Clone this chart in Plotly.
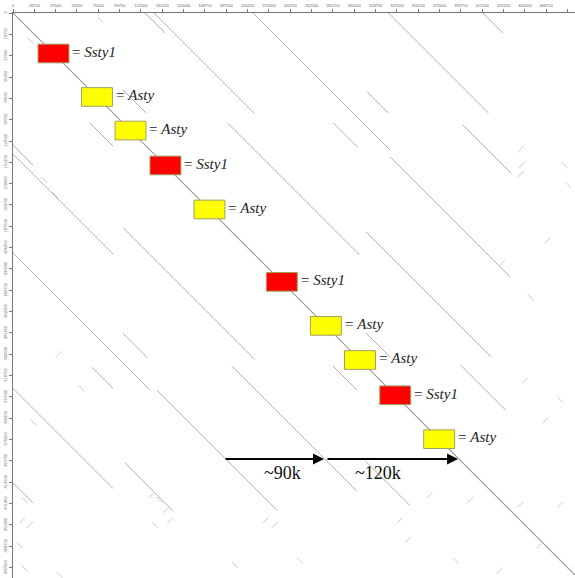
import plotly.graph_objects as go

# ---------------- data (kb) ----------------
SEQ_LEN_X = 494.0
SEQ_LEN_Y = 496.6

# repeat segments (upper triangle: column = row + offset), mirrored below the diagonal
seg_row_start = [0.0, 0.0, 67.7, 281.3, 0.0, 126.6, 96.7, 192.5, 0.0, 98.5, 0.0, 96.7, 69.4, 309.4]
seg_row_end   = [17.6, 87.9, 87.9, 302.4, 120.4, 232.0, 212.7, 302.4, 87.9, 140.6, 17.6, 117.8, 87.9, 349.0]
seg_offset    = [116, 124, 29, 29, 211, 205, 92, 118, 330, 297, 413, 185, 242, 84]

# short speck hits (x kb, y kb, direction: 1 = "\", -1 = "/")
speck_x = [10, 8, 15, 6, 10, 41, 122, 129, 134, 138, 125, 222, 230, 252, 195,
           340, 347, 366, 402, 446, 481, 463, 389, 428, 446, 447, 446, 485, 488,
           450, 481, 468, 28, 37, 15, 77, 430, 455, 470, 18, 40, 60]
speck_y = [428, 446, 450, 468, 488, 494, 424, 428, 437, 446, 450, 446, 450, 481, 485,
           446, 463, 424, 428, 432, 432, 468, 481, 490, 120, 134, 142, 134, 151,
           323, 340, 358, 147, 160, 24, 6, 220, 250, 200, 360, 300, 330]
speck_dir = [1, -1, -1, 1, 1, 1, -1, 1, -1, -1, 1, -1, -1, 1, 1,
             -1, -1, -1, -1, -1, -1, -1, 1, -1, -1, -1, -1, 1, 1,
             -1, 1, -1, 1, 1, 1, 1, -1, 1, -1, 1, -1, 1]

# annotated genes on the diagonal
gene_pos  = [35.6, 73.8, 103.3, 134.0, 172.7, 236.3, 275.0, 305.0, 336.0, 374.6]
gene_name = ["Ssty1", "Asty", "Asty", "Ssty1", "Asty", "Ssty1", "Asty", "Asty", "Ssty1", "Asty"]
gene_color = {"Ssty1": "#ff0000", "Asty": "#ffff00"}

# distance arrows
arrow_y = 392.0
arrow_x = [185.5, 273.4, 275.1, 391.2]
arrow_label = ["~90k", "~120k"]
arrow_label_x = [237.3, 320.8]
arrow_label_y = 404.3

# ticks (bp)
tick_step = 18750
# -------------------------------------------

fig = go.Figure()

# main diagonal
fig.add_trace(go.Scatter(x=[0, SEQ_LEN_X * 1000], y=[0, SEQ_LEN_X * 1000], mode="lines",
                         line=dict(color="#999999", width=1.1), hoverinfo="skip"))

# repeat lines, both halves
lx, ly = [], []
for r0, r1, d in zip(seg_row_start, seg_row_end, seg_offset):
    lx += [(r0 + d) * 1000, (r1 + d) * 1000, None]
    ly += [r0 * 1000, r1 * 1000, None]
    lx += [r0 * 1000, r1 * 1000, None]
    ly += [(r0 + d) * 1000, (r1 + d) * 1000, None]
fig.add_trace(go.Scatter(x=lx, y=ly, mode="lines", line=dict(color="#b0b0b0", width=1),
                         hoverinfo="skip"))

# specks
sx, sy = [], []
half = 2.6
for x, y, dr in zip(speck_x, speck_y, speck_dir):
    sx += [(x - half) * 1000, (x + half) * 1000, None]
    sy += [(y - dr * half) * 1000, (y + dr * half) * 1000, None]
fig.add_trace(go.Scatter(x=sx, y=sy, mode="lines", line=dict(color="#cccccc", width=1),
                         hoverinfo="skip"))

# gene boxes and labels
bw, bh = 13.6, 8.2
for p, name in zip(gene_pos, gene_name):
    fig.add_shape(type="rect", xref="x", yref="y",
                  x0=(p - bw) * 1000, x1=(p + bw) * 1000,
                  y0=(p - bh) * 1000, y1=(p + bh) * 1000,
                  fillcolor=gene_color[name], line=dict(color="#a0a060", width=1), layer="above")
    fig.add_annotation(x=(p + bw + 1.3) * 1000, y=(p - 1.5) * 1000, xref="x", yref="y",
                       text="= <i>" + name + "</i>", showarrow=False, xanchor="left",
                       yanchor="middle",
                       font=dict(family="Liberation Serif", size=15, color="#222222"))

# arrows
for i in range(2):
    x0, x1 = arrow_x[2 * i], arrow_x[2 * i + 1]
    fig.add_annotation(x=x1 * 1000, y=arrow_y * 1000, ax=x0 * 1000, ay=arrow_y * 1000,
                       xref="x", yref="y", axref="x", ayref="y", text="",
                       showarrow=True, arrowhead=2, arrowsize=1, arrowwidth=2.2,
                       arrowcolor="#000000")
    fig.add_annotation(x=arrow_label_x[i] * 1000, y=arrow_label_y * 1000, xref="x", yref="y",
                       text=arrow_label[i], showarrow=False,
                       font=dict(family="Liberation Serif", size=18, color="#111111"))

tickfont = dict(family="Liberation Sans", size=4, color="#666666")
fig.update_layout(
    width=575, height=578,
    margin=dict(l=13, r=0, t=13, b=0),
    paper_bgcolor="white", plot_bgcolor="white",
    showlegend=False,
    xaxis=dict(side="top", range=[0, SEQ_LEN_X * 1000], tick0=0, dtick=tick_step,
               showgrid=False, zeroline=False, showline=True, linecolor="#777777",
               linewidth=1, ticks="outside", ticklen=3, tickcolor="#777777",
               tickfont=tickfont, tickformat="d", automargin=False),
    yaxis=dict(range=[SEQ_LEN_Y * 1000, 0], tick0=0, dtick=tick_step,
               showgrid=False, zeroline=False, showline=True, linecolor="#777777",
               linewidth=1, ticks="outside", ticklen=3, tickcolor="#777777",
               tickfont=tickfont, tickangle=-90, tickformat="d", automargin=False),
)

fig.write_html("out.html", config={"displayModeBar": False},
               post_script="document.body.style.margin='0';document.body.style.overflow='hidden';")
